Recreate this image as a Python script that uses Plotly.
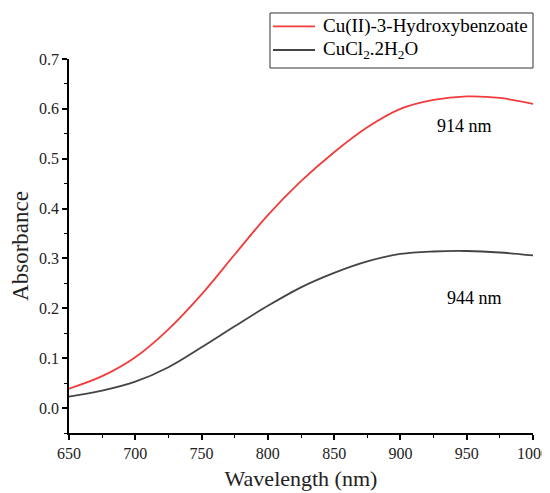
import plotly.graph_objects as go

wavelength = [650, 675, 700, 725, 750, 775, 800, 825, 850, 875, 900, 925, 950, 975, 1000]
cu_hydroxybenzoate = [0.039, 0.064, 0.102, 0.158, 0.228, 0.308, 0.387, 0.455, 0.513, 0.563, 0.600, 0.618, 0.625, 0.622, 0.610]
cucl2 = [0.023, 0.035, 0.053, 0.082, 0.122, 0.164, 0.205, 0.242, 0.271, 0.294, 0.309, 0.314, 0.315, 0.312, 0.306]

series_names = ["Cu(II)-3-Hydroxybenzoate", "CuCl<sub>2</sub>.2H<sub>2</sub>O"]
series_colors = ["#f03c3c", "#444444"]
peak_labels = ["914 nm", "944 nm"]
peak_label_x = [948, 956]
peak_label_y = [0.566, 0.221]

font_family = "Liberation Serif, Times New Roman, serif"

# the page body has an 8px default margin, so the figure is sized/placed to compensate
W, H = 542, 485

fig = go.Figure()
for name, ys, col in zip(series_names, [cu_hydroxybenzoate, cucl2], series_colors):
    fig.add_trace(go.Scatter(x=wavelength, y=ys, mode="lines", name=name, showlegend=False,
                             line=dict(color=col, width=1.8, shape="spline", smoothing=1.0)))

for t, x, y in zip(peak_labels, peak_label_x, peak_label_y):
    fig.add_annotation(x=x, y=y, text=t, showarrow=False,
                       font=dict(family=font_family, size=18, color="black"))

# boxed legend drawn in paper coordinates (top-right, overlapping the top edge)
box = dict(x0=0.4332, x1=1.0, y0=0.9759, y1=1.1230)
fig.add_shape(type="rect", xref="paper", yref="paper", layer="above",
              line=dict(color="#333333", width=1), fillcolor="white", **box)
row_y = [1.0870, 1.0241]
for name, col, ry in zip(series_names, series_colors, row_y):
    fig.add_shape(type="line", xref="paper", yref="paper", layer="above",
                  x0=0.4397, x1=0.5302, y0=ry, y1=ry, line=dict(color=col, width=1.8))
    fig.add_annotation(xref="paper", yref="paper", x=0.5431, y=ry, text=name,
                       xanchor="left", yanchor="middle", showarrow=False,
                       font=dict(family=font_family, size=19, color="black"))

def axis_style():
    return dict(
        showgrid=False, zeroline=False, showline=True, linecolor="black", linewidth=1.5,
        ticks="outside", ticklen=5, tickwidth=1.5, tickcolor="black",
        tickfont=dict(family=font_family, size=16, color="#222222"),
        mirror=False, automargin=False,
    )

fig.update_layout(
    template="none",
    width=W, height=H,
    margin=dict(l=61, r=17, t=51, b=60, autoexpand=False),
    plot_bgcolor="white", paper_bgcolor="white",
    font=dict(family=font_family, color="#222222", size=16),
    xaxis=dict(range=[650, 1000], dtick=50, tick0=650,
               minor=dict(ticks="outside", ticklen=3, tickwidth=1, tickcolor="black", dtick=25),
               title=dict(text="Wavelength (nm)", font=dict(family=font_family, size=22, color="#222222"), standoff=10),
               **axis_style()),
    yaxis=dict(range=[-0.05, 0.7], dtick=0.1, tick0=0, tickformat=".1f",
               minor=dict(ticks="outside", ticklen=3, tickwidth=1, tickcolor="black", dtick=0.05),
               title=dict(text="Absorbance", font=dict(family=font_family, size=23, color="#222222"), standoff=8),
               **axis_style()),
    showlegend=False,
)

fig.write_html("out.html")
